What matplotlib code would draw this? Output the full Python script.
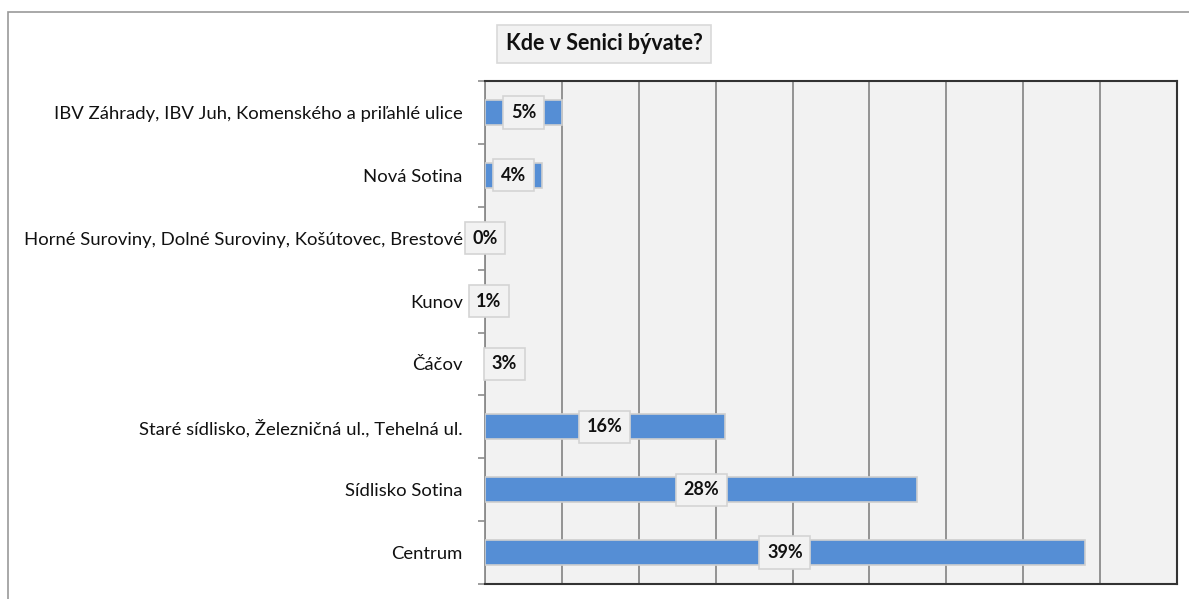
import numpy as np
import matplotlib.pyplot as plt
from matplotlib.patches import Rectangle

plt.rcParams['font.family'] = ['Lato', 'DejaVu Sans']

categories = ['Centrum', 'Sídlisko Sotina', 'Staré sídlisko, Železničná ul., Tehelná ul.',
              'Čáčov', 'Kunov', 'Horné Suroviny, Dolné Suroviny, Košútovec, Brestové',
              'Nová Sotina', 'IBV Záhrady, IBV Juh, Komenského a priľahlé ulice']
values = [0.39, 0.281, 0.156, 0.0015, 0.0, 0.0, 0.037, 0.05]
labels = ['39%', '28%', '16%', '3%', '1%', '0%', '4%', '5%']
# small horizontal shift of the data labels (in axis units) where Excel nudged them
label_shift = [0, 0, 0, 0.012, 0.0026, 0, 0, 0]

fig = plt.figure(figsize=(11.89, 5.99), dpi=100)
# outer chart border
fig.patches.append(Rectangle((8 / 1189, -0.1), 1.2, 1 - 12 / 599 + 0.1, transform=fig.transFigure,
                             fill=False, edgecolor='#999999', lw=1.2))

ax = fig.add_axes([485 / 1189, 1 - 584 / 599, (1177 - 485) / 1189, (584 - 81) / 599])
ax.set_facecolor('#f2f2f2')

y = np.arange(len(categories))
ax.barh(y, values, height=0.4, color='#558ed5', edgecolor='#cfcfcf', lw=1.2, zorder=3)

for yi, v, lab, s in zip(y, values, labels, label_shift):
    ax.text(v / 2 + s, yi, lab, ha='center', va='center', fontsize=13, fontweight='bold',
            color='#111111', zorder=5,
            bbox=dict(boxstyle='square,pad=0.42', fc='#f2f2f2', ec='#d4d4d4', lw=1.2))

ax.set_xlim(0, 0.45)
ax.set_ylim(-0.5, len(categories) - 0.5)
ax.set_xticks(np.arange(0, 0.451, 0.05))
ax.set_xticklabels([])
ax.tick_params(axis='x', length=0)
ax.grid(axis='x', color='#8c8c8c', lw=1.3, zorder=1)

ax.set_yticks(y)
ax.set_yticklabels(categories, fontsize=13.3, color='#111111')
ax.tick_params(axis='y', which='major', length=0, pad=16)
ax.set_yticks(np.arange(-0.5, len(categories), 1), minor=True)
ax.tick_params(axis='y', which='minor', length=5, color='#8c8c8c', width=1.2)

ax.spines['left'].set_color('#8c8c8c')
ax.spines['left'].set_linewidth(1.3)
for sp in ['top', 'right', 'bottom']:
    ax.spines[sp].set_color('#333333')
    ax.spines[sp].set_linewidth(1.5)

fig.text(604 / 1189, 1 - 44 / 599, 'Kde v Senici bývate?', ha='center', va='center',
         fontsize=15.5, fontweight='bold', color='#111111',
         bbox=dict(boxstyle='square,pad=0.4', fc='#f2f2f2', ec='#d9d9d9', lw=1.2))

fig.savefig('out.png', dpi=100)
